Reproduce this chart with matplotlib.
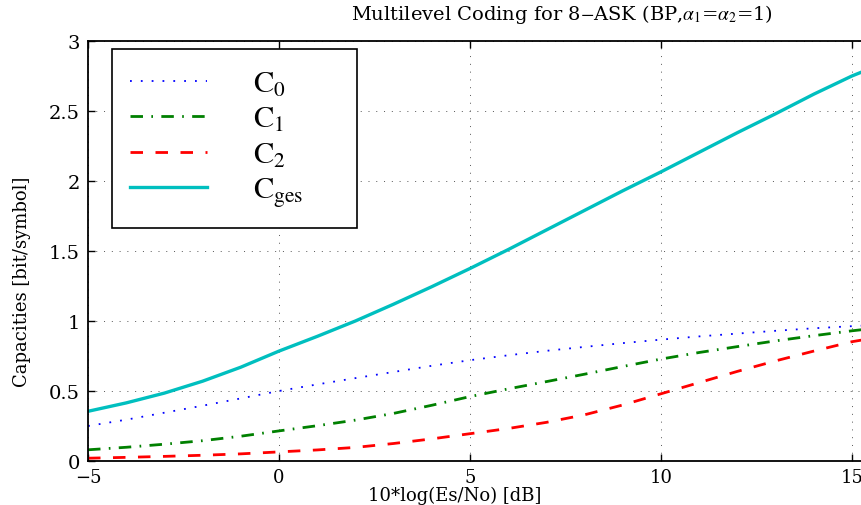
import matplotlib
matplotlib.use('Agg')
import matplotlib.pyplot as plt

# Es/No in dB
snr_db = [-5, -4, -3, -2, -1, 0, 1, 2, 3, 4, 5, 6, 7, 8, 9, 10,
          11, 12, 13, 14, 15, 15.5]

# level capacities [bit/symbol]
c0 = [0.25, 0.295, 0.345, 0.395, 0.447, 0.50, 0.547, 0.592, 0.636, 0.68, 0.72,
      0.755, 0.787, 0.815, 0.842, 0.867, 0.89, 0.91, 0.93, 0.948, 0.963, 0.97]
c1 = [0.08, 0.098, 0.12, 0.145, 0.177, 0.215, 0.252, 0.292, 0.34, 0.398, 0.46,
      0.515, 0.567, 0.62, 0.675, 0.728, 0.775, 0.817, 0.858, 0.895, 0.93, 0.945]
c2 = [0.02, 0.026, 0.033, 0.041, 0.051, 0.065, 0.079, 0.097, 0.125, 0.158, 0.195,
      0.232, 0.276, 0.33, 0.40, 0.48, 0.56, 0.64, 0.715, 0.785, 0.852, 0.875]
c_ges = [0.355, 0.415, 0.485, 0.57, 0.67, 0.785, 0.89, 1.0, 1.12, 1.245, 1.375,
         1.51, 1.65, 1.79, 1.93, 2.065, 2.205, 2.345, 2.48, 2.62, 2.75, 2.805]

plt.rcParams['font.family'] = 'DejaVu Serif'
plt.rcParams['mathtext.fontset'] = 'stix'

fig = plt.figure(figsize=(8.62, 5.06), dpi=100)
# axes runs past the right edge of the picture, like the original
ax = fig.add_axes([88 / 862, 44 / 506, 783 / 862, 420 / 506])

ax.plot(snr_db, c0, color='#0000ff', lw=1.3, linestyle=(0, (1, 5)), label=r'$\mathrm{C}_{0}$')
ax.plot(snr_db, c1, color='#008000', lw=2, linestyle=(0, (4.5, 3, 0.6, 3)), label=r'$\mathrm{C}_{1}$')
ax.plot(snr_db, c2, color='#ff0000', lw=2, linestyle=(0, (4.5, 4.5)), label=r'$\mathrm{C}_{2}$')
ax.plot(snr_db, c_ges, color='#00bfbf', lw=2.4, label=r'$\mathrm{C}_{\mathrm{ges}}$')

ax.set_xlim(-5, 15.5)
ax.set_ylim(0, 3)
ax.set_xticks([-5, 0, 5, 10, 15])
ax.set_yticks([0, 0.5, 1, 1.5, 2, 2.5, 3])
ax.set_yticklabels(['0', '0.5', '1', '1.5', '2', '2.5', '3'])
ax.tick_params(direction='in', length=5, width=1, top=True, right=True,
               labelsize=14, pad=6)
ax.tick_params(axis='x', pad=5, labelsize=13)
ax.grid(True, color='#555555', lw=0.7, linestyle=(0, (1, 7)))
for s in ax.spines.values():
    s.set_linewidth(1.3)

fig.text(455 / 862, 1 - 496 / 506, '10*log(Es/No) [dB]', ha='center',
         va='center', fontsize=13)
fig.text(22 / 862, 1 - 282 / 506, 'Capacities [bit/symbol]', rotation=90,
         ha='center', va='center', fontsize=13)
fig.text(562 / 862, 1 - 15 / 506,
         r'Multilevel Coding for 8$-$ASK (BP,$\alpha_1$=$\alpha_2$=1)',
         ha='center', va='center', fontsize=14)

leg = ax.legend(loc='upper left',
                bbox_to_anchor=(112 / 862, 1 - 219 / 506, 245 / 862, 169 / 506),
                bbox_transform=fig.transFigure, mode='expand',
                fontsize=22, fancybox=False, framealpha=1, edgecolor='black',
                handlelength=2.5, handletextpad=1.5, labelspacing=0.15,
                borderpad=0.6, borderaxespad=0)
leg.get_frame().set_linewidth(1.2)

fig.savefig('out.png', dpi=100)
